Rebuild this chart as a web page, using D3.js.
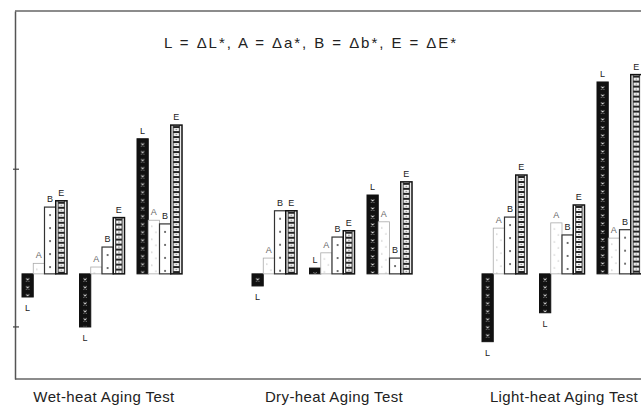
<!DOCTYPE html>
<html><head><meta charset="utf-8">
<script src="https://cdn.jsdelivr.net/npm/d3@7"></script>
<style>body{margin:0;background:#fff}svg{display:block}</style></head>
<body>
<svg id="c" width="641" height="406"></svg>
<script>
const tests = ["Wet-heat Aging Test", "Dry-heat Aging Test", "Light-heat Aging Test"];
const measures = ["L", "A", "B", "E"];
const slots = ["W1", "W2", "W3", "gap1", "D1", "D2", "D3", "gap2", "H1", "H2", "H3"];
const samples = ["W1", "W2", "W3", "D1", "D2", "D3", "H1", "H2", "H3"];
const valL = [-0.44, -1.01, 2.57, -0.23, 0.11, 1.50, -1.29, -0.74, 3.65];
const valA = [0.20, 0.13, 1.02, 0.30, 0.40, 0.99, 0.87, 0.97, 0.68];
const valB = [1.27, 0.51, 0.95, 1.20, 0.70, 0.30, 1.08, 0.74, 0.84];
const valE = [1.39, 1.07, 2.83, 1.20, 0.82, 1.75, 1.88, 1.31, 3.79];
const yTicks = [-1, 2];
const title = "L = ΔL*, A = Δa*, B = Δb*, E = ΔE*";

const svg = d3.select("#c");
const x = d3.scaleBand().domain(slots).range([22, 642]).paddingInner(12.5 / 57.5).paddingOuter(0);
const xi = d3.scaleBand().domain(measures).range([0, x.bandwidth()]);
const y = d3.scaleLinear().domain([-2, 5]).range([379, 11]);
const bw = xi.bandwidth();

const series = {L: valL, A: valA, B: valB, E: valE};
const bars = [];
samples.forEach((s, i) => measures.forEach(m => bars.push({s, m, v: series[m][i], id: "p" + s + m})));

const defs = svg.append("defs");
bars.forEach(d => {
  const bx = x(d.s) + xi(d.m);
  const by = Math.min(y(d.v), y(0));
  let w = bw, h;
  if (d.m === "L") h = 8; else if (d.m === "E") h = 5; else h = 13;
  const p = defs.append("pattern").attr("id", d.id).attr("patternUnits", "userSpaceOnUse")
    .attr("x", bx).attr("y", by + 2).attr("width", w).attr("height", h);
  if (d.m === "L") {
    p.append("rect").attr("width", w).attr("height", h).attr("fill", "#111");
    p.append("path").attr("d", `M${w/2-1.5},2.5L${w/2+1.5},5.5M${w/2+1.5},2.5L${w/2-1.5},5.5`)
      .attr("stroke", "#ddd").attr("stroke-width", 1);
  } else if (d.m === "A") {
    p.append("rect").attr("width", w).attr("height", h).attr("fill", "#fff");
    p.append("circle").attr("cx", w/2 - 2).attr("cy", 4).attr("r", 0.6).attr("fill", "#999");
    p.append("circle").attr("cx", w/2 + 2).attr("cy", 10).attr("r", 0.6).attr("fill", "#999");
  } else if (d.m === "B") {
    p.append("rect").attr("width", w).attr("height", h).attr("fill", "#fff");
    p.append("circle").attr("cx", w/2).attr("cy", 6).attr("r", 0.9).attr("fill", "#333");
  } else {
    p.append("rect").attr("width", w).attr("height", h).attr("fill", "#fff");
    p.append("rect").attr("x", 2.5).attr("y", 0.5).attr("width", w - 5).attr("height", 4)
      .attr("fill", "none").attr("stroke", "#222").attr("stroke-width", 1);
    p.append("rect").attr("x", w/2 - 0.6).attr("y", 1.9).attr("width", 1.2).attr("height", 1.2).attr("fill", "#555");
  }
});

const stroke = {L: "#111", A: "#aaa", B: "#333", E: "#111"};
const sw = {L: 1, A: 0.8, B: 1.2, E: 1.5};
svg.append("g").selectAll("rect").data(bars).join("rect")
  .attr("x", d => x(d.s) + xi(d.m))
  .attr("y", d => Math.min(y(d.v), y(0)))
  .attr("width", bw)
  .attr("height", d => Math.abs(y(d.v) - y(0)))
  .attr("fill", d => `url(#${d.id})`)
  .attr("stroke", d => stroke[d.m])
  .attr("stroke-width", d => sw[d.m]);

svg.append("g").selectAll("text").data(bars).join("text")
  .attr("x", d => x(d.s) + xi(d.m) + bw / 2)
  .attr("y", d => d.v >= 0 ? y(d.v) - 5 : y(d.v) + 14)
  .attr("text-anchor", "middle")
  .attr("font-family", "Liberation Sans, Arial, sans-serif")
  .attr("font-size", 9)
  .attr("fill", d => d.m === "A" ? "#666" : "#222")
  .text(d => d.m);

// frame
const frame = svg.append("g").attr("stroke", "#666").attr("stroke-width", 1.5).attr("fill", "none");
frame.append("line").attr("x1", 15).attr("x2", 641).attr("y1", y(5)).attr("y2", y(5));
frame.append("line").attr("x1", 15).attr("x2", 641).attr("y1", y(-2)).attr("y2", y(-2));

const ax = svg.append("g").attr("transform", "translate(15,0)")
  .call(d3.axisLeft(y).tickValues(yTicks).tickSize(-4).tickSizeOuter(0).tickFormat(""));
ax.select(".domain").attr("stroke", "#555").attr("stroke-width", 1.5);
ax.selectAll(".tick line").attr("stroke", "#444").attr("stroke-width", 1.2).attr("x1", -2);

svg.append("text").attr("x", 310).attr("y", 48).attr("text-anchor", "middle")
  .attr("font-family", "Liberation Sans, Arial, sans-serif").attr("font-size", 15)
  .attr("textLength", 292).attr("lengthAdjust", "spacing")
  .attr("fill", "#222").text(title);

const mids = ["W2", "D2", "H2"];
svg.append("g").selectAll("text").data(tests).join("text")
  .attr("x", (d, i) => x(mids[i]) + x.bandwidth() / 2 + 2)
  .attr("y", 402)
  .attr("text-anchor", "middle")
  .attr("font-family", "Liberation Sans, Arial, sans-serif")
  .attr("font-size", 15)
  .attr("letter-spacing", 0.4)
  .attr("fill", "#222")
  .text(d => d);
</script>
</body></html>
